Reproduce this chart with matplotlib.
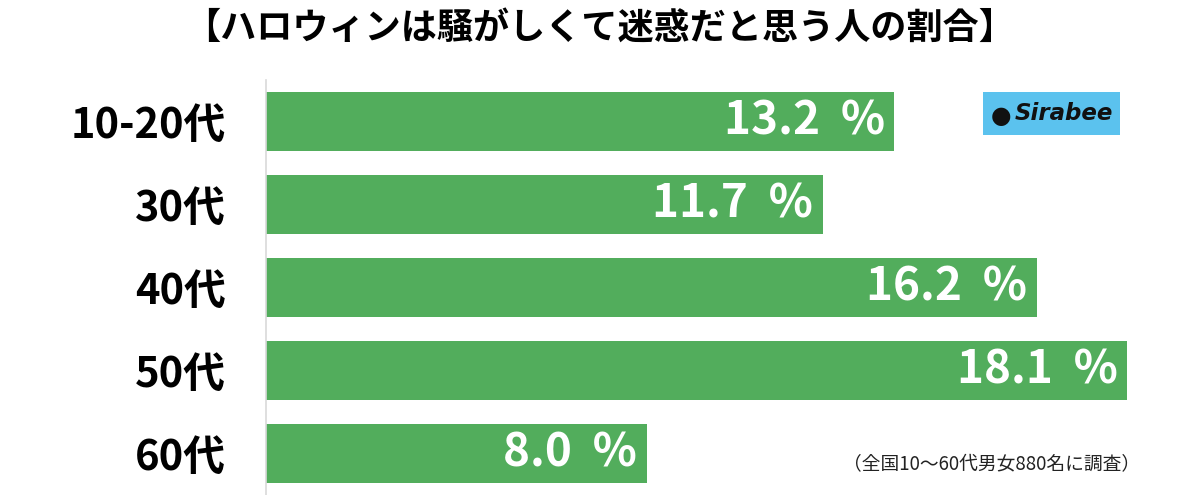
import matplotlib
matplotlib.use('Agg')
import matplotlib.pyplot as plt
from matplotlib.patches import FancyBboxPatch

plt.rcParams['font.family'] = ['Noto Sans CJK JP', 'DejaVu Sans']

# Data
categories = ['10-20代', '30代', '40代', '50代', '60代']
values = [13.2, 11.7, 16.2, 18.1, 8.0]

title = '【ハロウィンは騒がしくて迷惑だと思う人の割合】'
note = '（全国10〜60代男女880名に調査）'

bar_color = '#52ad5c'

fig = plt.figure(figsize=(12, 4.95), dpi=100)
ax = fig.add_axes([266 / 1200, 0.0, 928 / 1200, 1 - 80 / 495])

y = range(len(categories))
ax.barh(y, values, height=0.71, color=bar_color)
ax.set_xlim(0, 19.5)
ax.set_ylim(len(categories) - 0.5, -0.5)

for i, v in enumerate(values):
    ax.text(v - 0.2, i, f'{v:.1f}  %', ha='right', va='center',
            color='white', fontsize=33, fontweight='bold')

ax.set_yticks(list(y))
ax.set_yticklabels(categories, fontsize=30, fontweight='bold')
ax.tick_params(axis='y', length=0, pad=29)
ax.set_xticks([])
for s in ['top', 'right', 'bottom']:
    ax.spines[s].set_visible(False)
ax.spines['left'].set_color('#d9d9d9')
ax.spines['left'].set_linewidth(1.2)

fig.text(0.5, 1 - 28 / 495, title, ha='center', va='center',
         fontsize=26, fontweight='bold')
fig.text(1140 / 1200, 1 - 465 / 495, note, ha='right', va='center',
         fontsize=13.5, color='#222222')

# Sirabee badge
badge = FancyBboxPatch((983 / 1200, 1 - 135 / 495), 137 / 1200, 43 / 495,
                       boxstyle='square,pad=0', transform=fig.transFigure,
                       facecolor='#5bc2ee', edgecolor='none')
fig.add_artist(badge)
fig.text(1064 / 1200, 1 - 114 / 495, 'Sirabee', ha='center', va='center',
         fontsize=16.5, fontweight='bold', style='italic',
         family=['DejaVu Sans'], color='#111111')
fig.text(1001 / 1200, 1 - 116 / 495, '●', ha='center', va='center',
         fontsize=17, color='#111111', family=['DejaVu Sans'])

fig.savefig('out.png', dpi=100, facecolor='white')
